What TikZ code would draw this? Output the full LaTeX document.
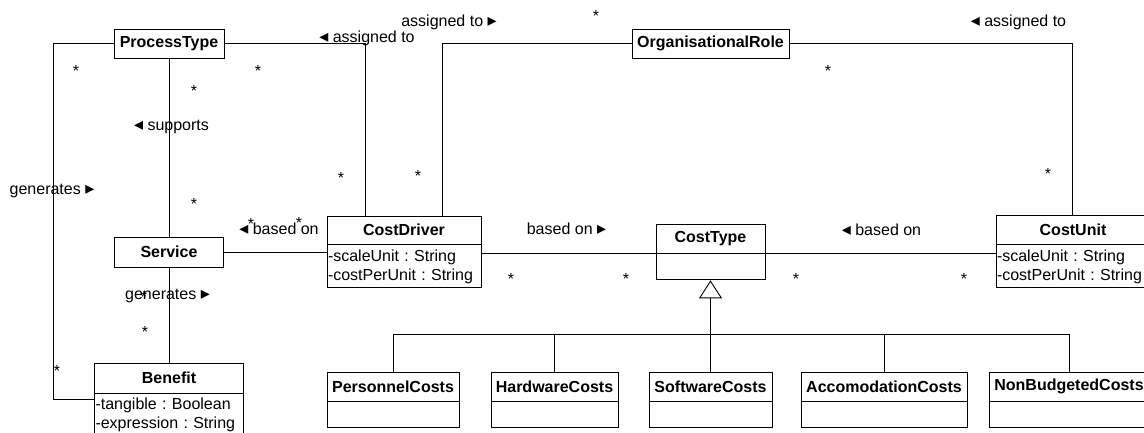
\documentclass[tikz,border=0pt]{standalone}
\usepackage{fontspec}
\setmainfont{Liberation Sans}
\newfontfamily\symfont{DejaVu Sans}
\usetikzlibrary{positioning,arrows.meta}
\frenchspacing
\newcommand{\tril}{{\symfont\fontsize{18}{18}\selectfont ◂}}
\newcommand{\trir}{{\symfont\fontsize{18}{18}\selectfont ▸}}

\begin{document}
\begin{tikzpicture}[x=1pt, y=-1pt, line width=0.9pt,
    cls/.style = {draw, font=\bfseries\fontsize{16}{19}\selectfont, minimum height=29, inner sep=0pt},
    body/.style = {draw, minimum height=26, inner sep=0pt},
    attr/.style = {draw, font=\fontsize{16}{19}\selectfont, align=left, text width=#1, inner xsep=1pt, inner ysep=0pt},
    lbl/.style = {font=\fontsize{16}{19}\selectfont, inner sep=0pt, anchor=base},
    gen/.style = {-{Triangle[open, width=23pt, length=18pt]}}]
    \useasboundingbox (0,0) rectangle (1144,432);
    \node[cls, minimum width=110] (ptype) at (169,43.5) {ProcessType};
    \node[cls, minimum width=157] (role) at (710.5,43.5) {OrganisationalRole};
    \node[cls, minimum width=109, minimum height=30] (service) at (169,252) {Service};
    \node[cls, minimum width=154, minimum height=28] (driver) at (404,230) {CostDriver};
    \node[attr=152, minimum height=43, below=0pt of driver] (driverattr) {-scaleUnit : String\\-costPerUnit : String};
    \node[cls, minimum width=109] (ctype) at (710.5,238.5) {CostType};
    \node[body, minimum width=109, below=0pt of ctype] (ctypebody) {};
    \node[cls, minimum width=154] (unit) at (1073,229.5) {CostUnit};
    \node[attr=152, minimum height=43, below=0pt of unit] (unitattr) {-scaleUnit : String\\-costPerUnit : String};
    \node[cls, minimum width=149, minimum height=30] (benefit) at (169,378) {Benefit};
    \node[attr=147, minimum height=42, below=0pt of benefit] (benefitattr) {-tangible : Boolean\\-expression : String};
    \node[cls, minimum width=132] (personnel) at (393,386.5) {PersonnelCosts};
    \node[body, minimum width=132, below=0pt of personnel] (personnelbody) {};
    \node[cls, minimum width=127] (hardware) at (554.5,386.5) {HardwareCosts};
    \node[body, minimum width=127, below=0pt of hardware] (hardwarebody) {};
    \node[cls, minimum width=123] (software) at (710.5,386.5) {SoftwareCosts};
    \node[body, minimum width=123, below=0pt of software] (softwarebody) {};
    \node[cls, minimum width=166] (accom) at (884,386.5) {AccomodationCosts};
    \node[body, minimum width=166, below=0pt of accom] (accombody) {};
    \node[cls, minimum width=160] (nonbudg) at (1069,386.5) {NonBudgetedCosts};
    \node[body, minimum width=160, below=0pt of nonbudg] (nonbudgbody) {};
    \coordinate (bus) at (710.5,334.5);
    % associations
    \draw (ptype.west) -- ++(-60,0) |- ([yshift=-6pt]benefitattr.north west);
    \draw (ptype.east) -| ([xshift=-39pt]driver.north);
    \draw (role.west) -| ([xshift=38pt]driver.north);
    \draw (role.east) -| ([xshift=-1pt]unit.north);
    \draw (ptype) -- (service);
    \draw (service) -- (benefit);
    \draw (service.east) -- (service.east -| driverattr.west);
    \draw (ctype.south west) -- (ctype.south west -| driverattr.east);
    \draw (ctype.south east) -- (ctype.south east -| unitattr.west);
    % generalisation
    \draw[gen] (software) -- (ctypebody);
    \draw (personnel) |- (bus);
    \draw (hardware) |- (bus);
    \draw (accom) |- (bus);
    \draw (nonbudg) |- (bus);
    % role names
    \node[lbl] (l1) at (449,26.5) {assigned to \trir};
    \node[lbl] (l2) at (367,42.5) {\tril\ assigned to};
    \node[lbl] (l3) at (1018.5,26.5) {\tril\ assigned to};
    \node[lbl] (l4) at (171.5,130.5) {\tril\ supports};
    \node[lbl] (l5) at (52,194.5) {generates \trir};
    \node[lbl] (l6) at (279,234.5) {\tril\ based on};
    \node[lbl] (l7) at (167.5,299.5) {generates \trir};
    \node[lbl] (l8) at (566.5,234.5) {based on \trir};
    \node[lbl] (l9) at (881.5,235.5) {\tril\ based on};
    % multiplicities
    \node[lbl] (m1) at (76,76) {*};
    \node[lbl] (m2) at (258,76) {*};
    \node[lbl] (m3) at (194,96) {*};
    \node[lbl] (m4) at (194,209) {*};
    \node[lbl] (m5) at (341,183) {*};
    \node[lbl] (m6) at (418,181) {*};
    \node[lbl] (m7) at (596,21) {*};
    \node[lbl] (m8) at (828,76) {*};
    \node[lbl] (m9) at (1048,179) {*};
    \node[lbl] (m10) at (251,229) {*};
    \node[lbl] (m11) at (299,228) {*};
    \node[lbl] (m12) at (144,302) {*};
    \node[lbl] (m13) at (145,337) {*};
    \node[lbl] (m14) at (57,376) {*};
    \node[lbl] (m15) at (511,284) {*};
    \node[lbl] (m16) at (626,284) {*};
    \node[lbl] (m17) at (796,284) {*};
    \node[lbl] (m18) at (964,284) {*};
\end{tikzpicture}
\end{document}
